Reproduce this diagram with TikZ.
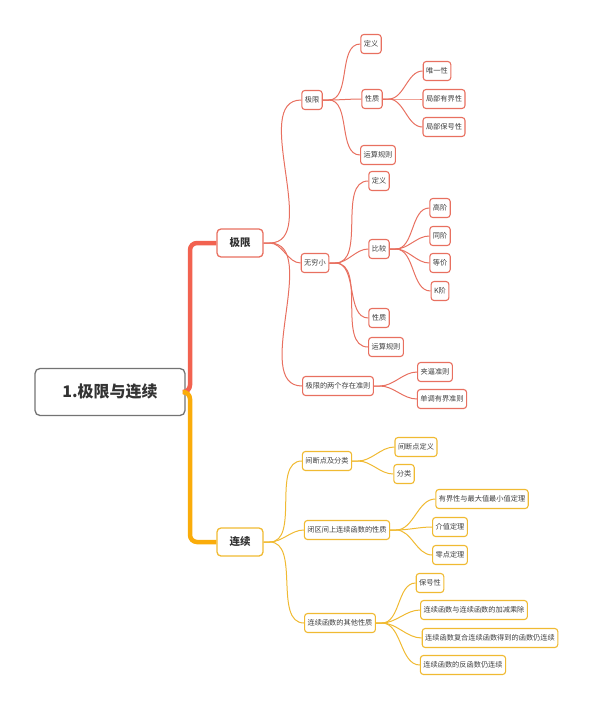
\documentclass[tikz,border=0pt]{standalone}
\usepackage{fontspec}
\setmainfont{Noto Sans CJK SC}
\begin{document}
\begin{tikzpicture}[x=1pt,y=-1pt,
  rc/.style={draw=redc,line width=1.1pt,rounded corners=3pt,fill=white,inner sep=3pt,minimum height=19pt,font=\fontsize{7.2}{8}\selectfont,text=black!75},
  oc/.style={rc,draw=orc},
  big/.style={draw=redc,line width=1.3pt,rounded corners=4pt,fill=white,minimum width=46pt,minimum height=28pt,font=\fontsize{10.5}{12}\selectfont\bfseries,text=black!80},
  rl/.style={draw=redc,line width=1pt},
  ol/.style={draw=orc,line width=1pt},
]
\definecolor{redc}{RGB}{232,112,96}
\definecolor{orc}{RGB}{240,186,50}
\definecolor{trunkr}{RGB}{242,98,80}
\definecolor{trunko}{RGB}{250,172,10}
\useasboundingbox (0,0) rectangle (600,709);
% root
\node[draw=black!55,line width=1.3pt,rounded corners=5pt,minimum width=150pt,minimum height=47pt,font=\fontsize{16}{18}\selectfont\bfseries,text=black!80] (root) at (110,392) {1.极限与连续};
\node[big] (jx) at (240,243) {极限};
\node[big,draw=orc] (lx) at (240,542) {连续};
\draw[trunkr,line width=4.5pt,rounded corners=7pt] (root.east) -- (190,392) |- (jx.west);
\draw[trunko,line width=4.5pt,rounded corners=7pt] (root.east) -- (190,392) |- (lx.west);
% red level 2
\node[rc] (a1) at (312,100) {极限};
\node[rc] (a2) at (315,263) {无穷小};
\node[rc] (a3) at (338,386) {极限的两个存在准则};
\node[rc] (b1) at (371,44) {定义};
\node[rc] (b2) at (372,99) {性质};
\node[rc] (b3) at (378,155) {运算规则};
\node[rc] (c1) at (437,71) {唯一性};
\node[rc] (c2) at (444,99) {局部有界性};
\node[rc] (c3) at (444,127) {局部保号性};
\node[rc] (d1) at (379,181) {定义};
\node[rc] (d2) at (379,249) {比较};
\node[rc] (d3) at (379,318) {性质};
\node[rc] (d4) at (386,347) {运算规则};
\node[rc] (e1) at (440,208) {高阶};
\node[rc] (e2) at (440,236) {同阶};
\node[rc] (e3) at (440,263) {等价};
\node[rc] (e4) at (440,291) {K阶};
\node[rc] (f1) at (435,372) {夹逼准则};
\node[rc] (f2) at (442,399) {单调有界准则};
% orange
\node[oc] (g1) at (327,461) {间断点及分类};
\node[oc] (g2) at (347,530) {闭区间上连续函数的性质};
\node[oc] (g3) at (340,623) {连续函数的其他性质};
\node[oc] (h1) at (416,447) {间断点定义};
\node[oc] (h2) at (404,474) {分类};
\node[oc] (i1) at (482,499) {有界性与最大值最小值定理};
\node[oc] (i2) at (450,527) {介值定理};
\node[oc] (i3) at (450,555) {零点定理};
\node[oc] (j1) at (430,583) {保号性};
\node[oc] (j2) at (474,610) {连续函数与连续函数的加减乘除};
\node[oc] (j3) at (490,638) {连续函数复合连续函数得到的函数仍连续};
\node[oc] (j4) at (463,665) {连续函数的反函数仍连续};
% connectors
\foreach \p/\c in {jx/a1,jx/a2,jx/a3,a1/b1,a1/b2,a1/b3,b2/c1,b2/c2,b2/c3,a2/d1,a2/d2,a2/d3,a2/d4,d2/e1,d2/e2,d2/e3,d2/e4,a3/f1,a3/f2}
  \draw[rl] (\p.east) -- ++(6,0) to[out=0,in=180,looseness=0.9] (\c.west);
\foreach \p/\c in {lx/g1,lx/g2,lx/g3,g1/h1,g1/h2,g2/i1,g2/i2,g2/i3,g3/j1,g3/j2,g3/j3,g3/j4}
  \draw[ol] (\p.east) -- ++(6,0) to[out=0,in=180,looseness=0.9] (\c.west);
\end{tikzpicture}
\end{document}
